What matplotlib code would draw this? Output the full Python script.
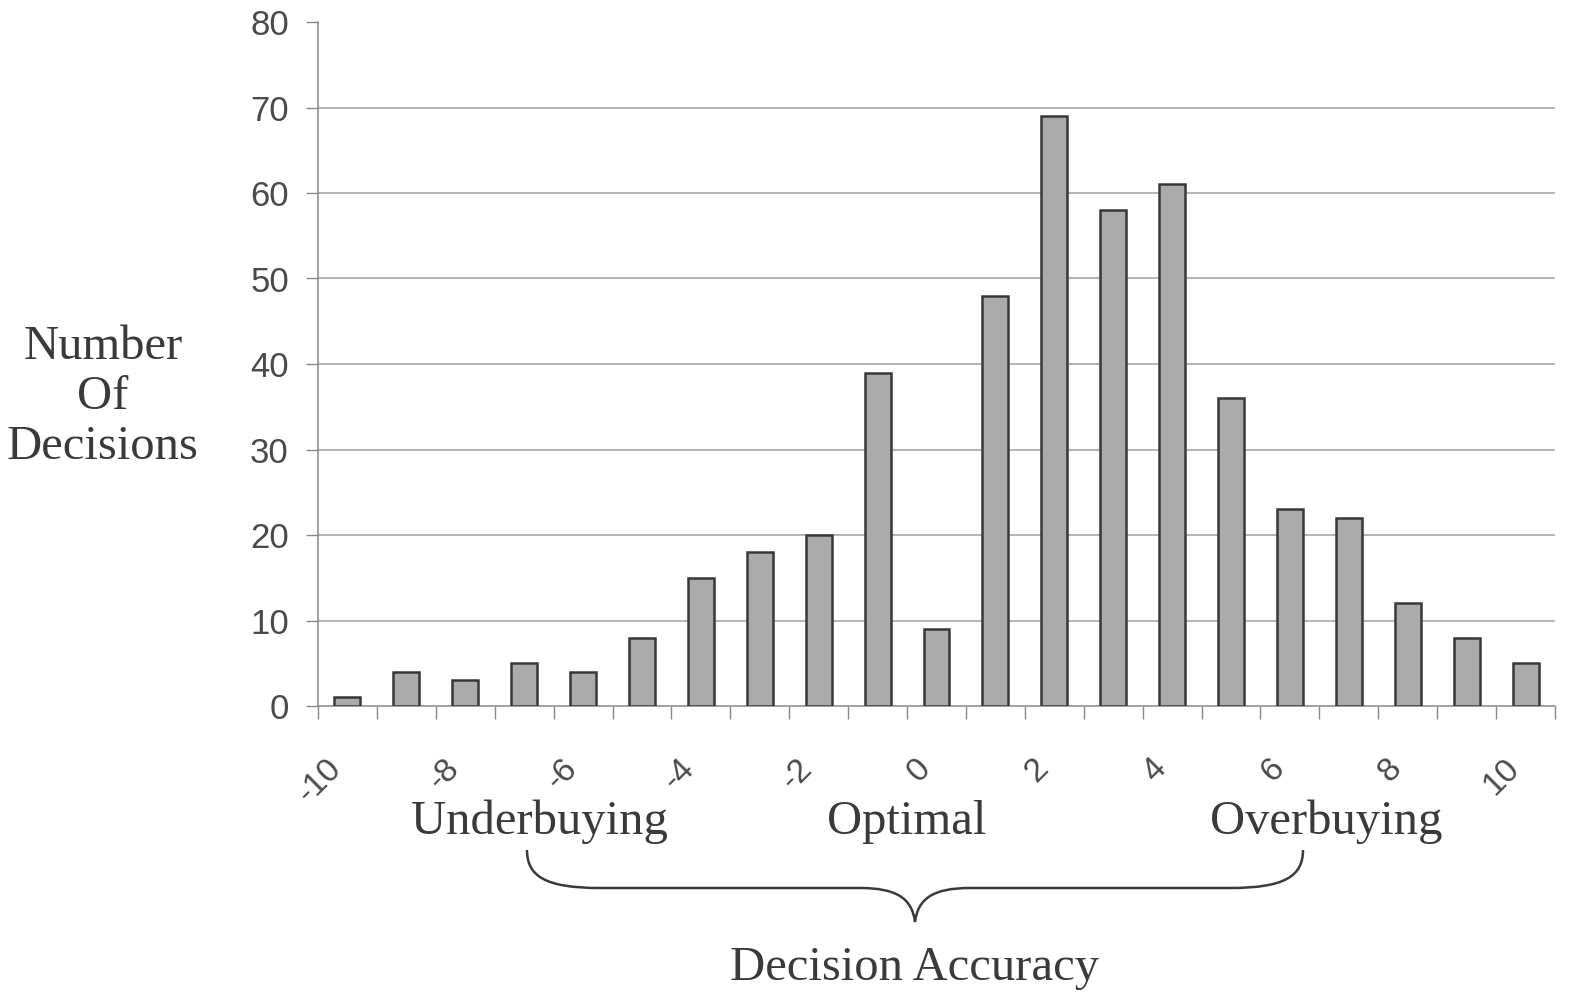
import numpy as np
import matplotlib
matplotlib.use("Agg")
import matplotlib.pyplot as plt
from matplotlib.path import Path
from matplotlib.patches import PathPatch
from matplotlib.transforms import Affine2D

# decision accuracy (categories) and number of decisions
accuracy = list(range(-10, 11))
decisions = [1, 4, 3, 5, 4, 8, 15, 18, 20, 39, 9, 48, 69, 58, 61, 36, 23, 22, 12, 8, 5]
tick_values = list(range(-10, 11, 2))
tick_labels = ["-10", "-8", "-6", "-4", "-2", "0", "2", "4", "6", "8", "10"]
y_ticks = list(range(0, 81, 10))
group_labels = ["Underbuying", "Optimal", "Overbuying"]

W, H = 1582, 1005
fig = plt.figure(figsize=(W / 100, H / 100), dpi=100)
ax = fig.add_axes([318 / W, 1 - 706 / H, (1555 - 318) / W, (706 - 22) / H])

ax.bar(accuracy, decisions, width=0.44, color="#ababab", edgecolor="#383838",
       linewidth=1.8, zorder=3)

ax.set_xlim(-10.5, 10.5)
ax.set_ylim(0, 80)
ax.set_yticks(y_ticks)
ax.set_yticklabels([str(v) for v in y_ticks], fontsize=25, color="#4a4a4a",
                   family="Liberation Sans")
ax.tick_params(axis="y", length=9, width=1, color="#888888", pad=12)

ax.set_xticks(tick_values)
ax.set_xticklabels(tick_labels, rotation=45, ha="right", va="top", fontsize=24,
                   color="#4a4a4a", family="Liberation Sans")
ax.tick_params(axis="x", which="major", length=0, pad=34)
ax.set_xticks(np.arange(-10.5, 11.0, 1.0), minor=True)
ax.tick_params(axis="x", which="minor", length=9, width=1, color="#888888")

ax.grid(axis="y", color="#a0a0a0", linewidth=1.1, zorder=0)
ax.yaxis.get_gridlines()[-1].set_visible(False)
ax.yaxis.get_gridlines()[0].set_visible(False)
for s in ["top", "right"]:
    ax.spines[s].set_visible(False)
ax.spines["left"].set_color("#888888")
ax.spines["bottom"].set_color("#888888")
ax.spines["left"].set_linewidth(1.1)
ax.spines["bottom"].set_linewidth(1.1)

serif = dict(family="Liberation Serif", color="#3a3a3a", fontsize=35)
fig.text(103 / W, 1 - 397 / H, "Number\nOf\nDecisions", ha="center", va="center",
         linespacing=1.18, **serif)
fig.text(539 / W, 1 - 822 / H, group_labels[0], ha="center", va="center", **serif)
fig.text(907 / W, 1 - 822 / H, group_labels[1], ha="center", va="center", **serif)
fig.text(1326 / W, 1 - 822 / H, group_labels[2], ha="center", va="center", **serif)
fig.text(915 / W, 1 - 968 / H, "Decision Accuracy", ha="center", va="center", **serif)

# curly brace under the group labels (figure pixel coords, y from top)
px = Affine2D().scale(1 / W, -1 / H).translate(0, 1) + fig.transFigure
verts = [(527, 850), (527, 876), (545, 888), (600, 888), (860, 888),
         (896, 888), (912, 898), (915, 922),
         (918, 898), (934, 888), (970, 888), (1230, 888),
         (1285, 888), (1303, 876), (1303, 850)]
codes = [Path.MOVETO, Path.CURVE4, Path.CURVE4, Path.CURVE4, Path.LINETO,
         Path.CURVE4, Path.CURVE4, Path.CURVE4,
         Path.CURVE4, Path.CURVE4, Path.CURVE4, Path.LINETO,
         Path.CURVE4, Path.CURVE4, Path.CURVE4]
fig.patches.append(PathPatch(Path(verts, codes), transform=px, fill=False,
                             edgecolor="#3a3a3a", linewidth=1.8))

fig.savefig("out.png", dpi=100)
